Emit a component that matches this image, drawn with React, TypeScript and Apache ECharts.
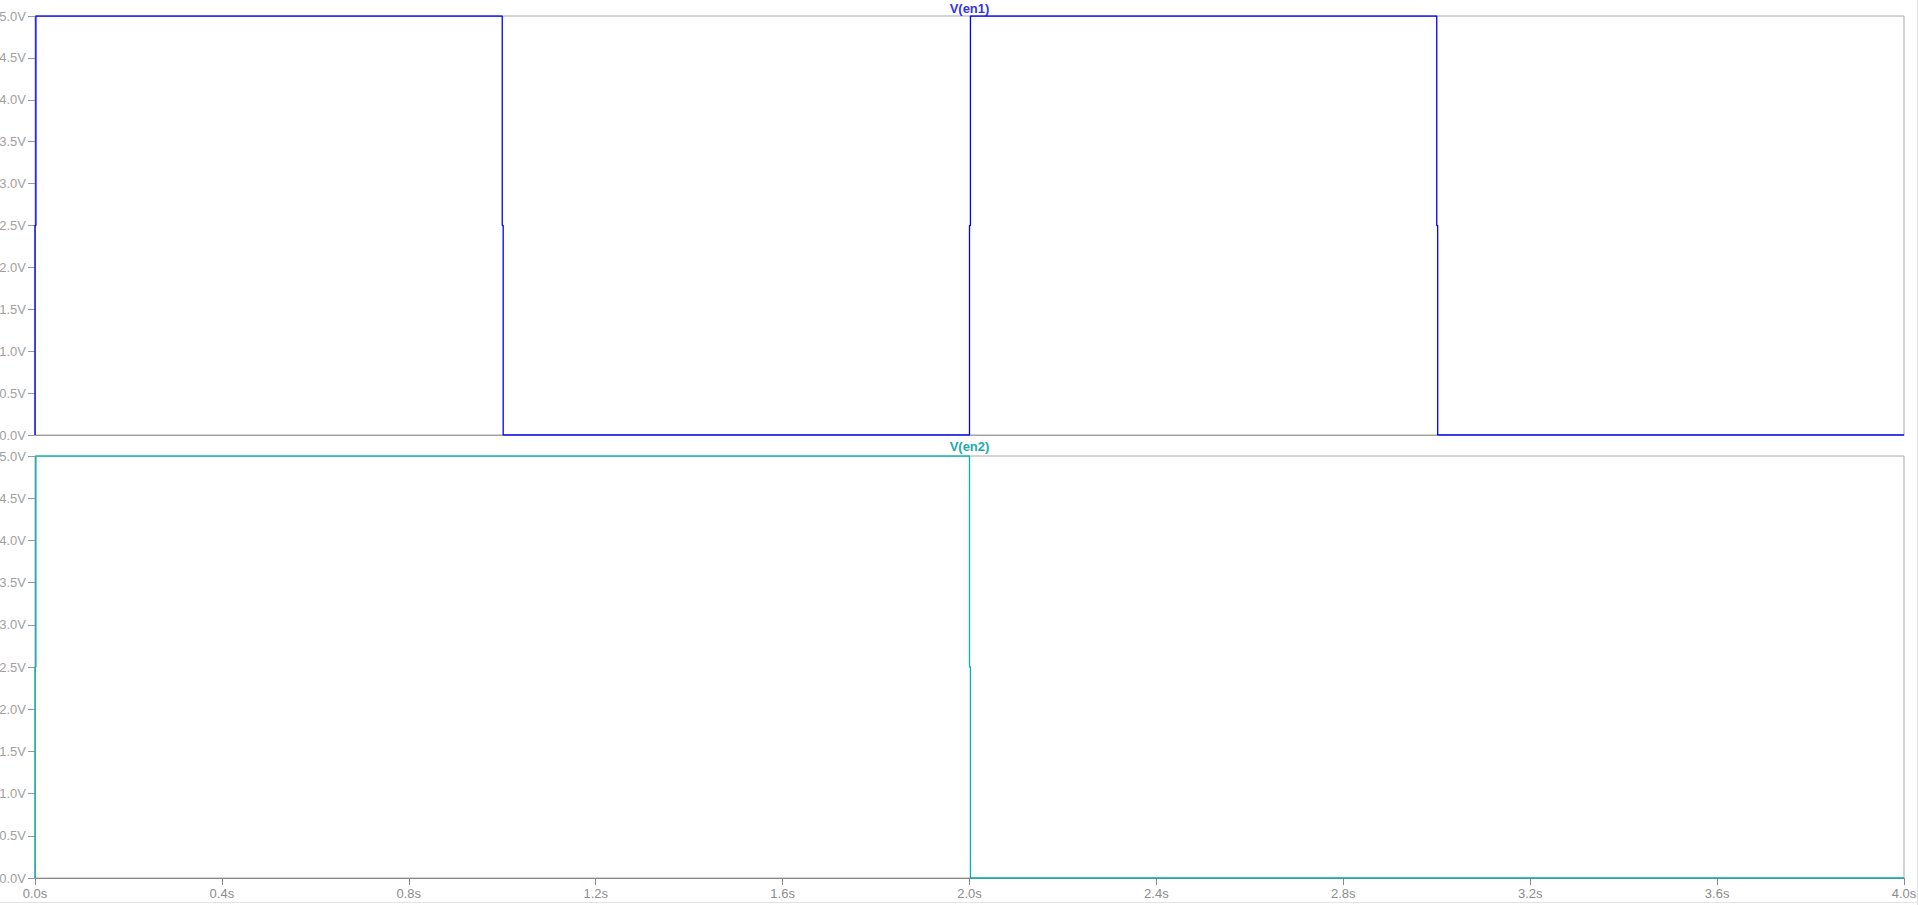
import React, { useEffect, useRef } from "react";
import * as echarts from "echarts";

// Signal V(en1): time (s) and voltage (V)
const timeEn1 = [0, 0, 0.002, 0.002, 1.0, 1.0, 1.002, 1.002, 2.0, 2.0, 2.002, 2.002, 3.0, 3.0, 3.002, 3.002, 4.0];
const voltEn1 = [0, 2.5, 2.5, 5, 5, 2.5, 2.5, 0, 0, 2.5, 2.5, 5, 5, 2.5, 2.5, 0, 0];

// Signal V(en2)
const timeEn2 = [0, 0, 0.002, 0.002, 2.0, 2.0, 2.002, 2.002, 4.0];
const voltEn2 = [0, 2.5, 2.5, 5, 5, 2.5, 2.5, 0, 0];

const traceNames = ["V(en1)", "V(en2)"];
const traceColors = ["#0000ff", "#00b4b4"];
const titleColors = ["#3333ee", "#22aaaa"];

const FONT = "Arial, 'Liberation Sans', sans-serif";

export default function App() {
  const ref = useRef<HTMLDivElement>(null);
  useEffect(() => {
    if (!ref.current) return;
    const chart = echarts.init(ref.current, null, { renderer: "svg" });
    const pairs = (t: number[], v: number[]) => t.map((x, i) => [x, v[i]]);
    const grids = [
      { left: 35, top: 16, width: 1869, height: 419 },
      { left: 35, top: 456, width: 1869, height: 422 },
    ];
    const yAxisBase = (gi: number) => ({
      type: "value",
      gridIndex: gi,
      min: 0,
      max: 5,
      interval: 0.5,
      axisLine: { show: true, lineStyle: { color: "#a0a0a0", width: 1 } },
      axisTick: { show: true, length: 7, lineStyle: { color: "#999999" } },
      axisLabel: {
        margin: 9,
        color: "#a0a0a0",
        fontSize: 13,
        fontFamily: FONT,
        formatter: (v: number) => v.toFixed(1) + "V",
      },
      splitLine: { show: false },
    });
    chart.setOption({
      animation: false,
      backgroundColor: "#ffffff",
      grid: grids.map((g) => ({
        ...g,
        containLabel: false,
        outerBoundsMode: "none",
        show: true,
        borderColor: "#a8a8a8",
        borderWidth: 1,
        backgroundColor: "#ffffff",
      })),
      xAxis: [
        {
          type: "value",
          gridIndex: 0,
          min: 0,
          max: 4,
          interval: 0.4,
          axisLine: { show: true, lineStyle: { color: "#a0a0a0" } },
          axisTick: { show: false },
          axisLabel: { show: false },
          splitLine: { show: false },
        },
        {
          type: "value",
          gridIndex: 1,
          min: 0,
          max: 4,
          interval: 0.4,
          axisLine: { show: true, lineStyle: { color: "#888888" } },
          axisTick: { show: true, length: 7, lineStyle: { color: "#888888" } },
          axisLabel: {
            margin: 9,
            color: "#8c8c8c",
            fontSize: 13,
            fontFamily: FONT,
            formatter: (v: number) => v.toFixed(1) + "s",
          },
          splitLine: { show: false },
        },
      ],
      yAxis: [yAxisBase(0), yAxisBase(1)],
      graphic: [
        {
          type: "text",
          x: 969.5,
          y: 8,
          style: {
            text: traceNames[0],
            fill: titleColors[0],
            font: `bold 13px ${FONT}`,
            textAlign: "center",
            textVerticalAlign: "middle",
          },
        },
        {
          type: "text",
          x: 969.5,
          y: 446,
          style: {
            text: traceNames[1],
            fill: titleColors[1],
            font: `bold 13px ${FONT}`,
            textAlign: "center",
            textVerticalAlign: "middle",
          },
        },
        {
          type: "line",
          shape: { x1: 1917.5, y1: 0, x2: 1917.5, y2: 905 },
          style: { stroke: "#e3e3e3", lineWidth: 1 },
        },
        {
          type: "line",
          shape: { x1: 0, y1: 902.5, x2: 1918, y2: 902.5 },
          style: { stroke: "#e3e3e3", lineWidth: 1 },
        },
      ],
      series: [
        {
          type: "line",
          name: traceNames[0],
          xAxisIndex: 0,
          yAxisIndex: 0,
          data: pairs(timeEn1, voltEn1),
          showSymbol: false,
          lineStyle: { color: traceColors[0], width: 1.3 },
          z: 5,
        },
        {
          type: "line",
          name: traceNames[1],
          xAxisIndex: 1,
          yAxisIndex: 1,
          data: pairs(timeEn2, voltEn2),
          showSymbol: false,
          lineStyle: { color: traceColors[1], width: 1.3 },
          z: 5,
        },
      ],
    });
    return () => chart.dispose();
  }, []);
  return (
    <div
      ref={ref}
      style={{ position: "absolute", left: 0, top: 0, width: 1918, height: 905 }}
    />
  );
}
